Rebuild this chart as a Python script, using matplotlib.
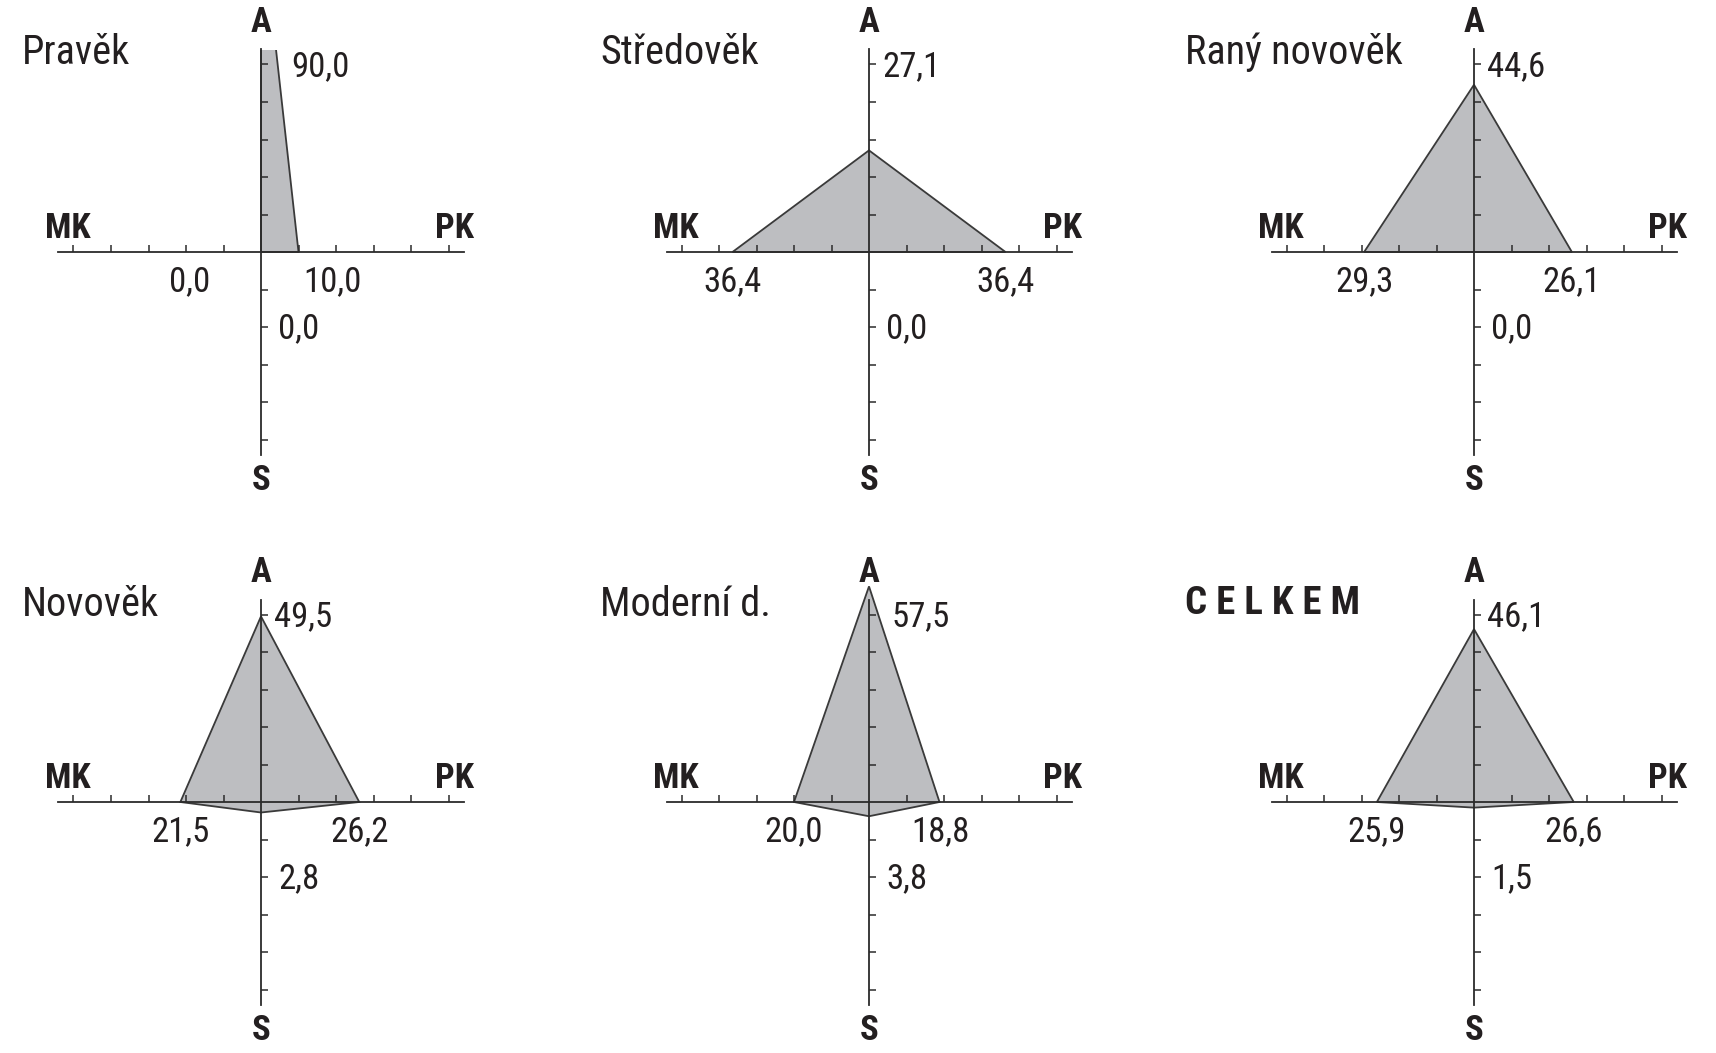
import matplotlib
matplotlib.use('Agg')
import matplotlib.pyplot as plt
from matplotlib import font_manager as fm
from matplotlib.patches import Polygon, Rectangle

# ---------------- data ----------------
panels = ['Pravěk', 'Středověk', 'Raný novověk', 'Novověk', 'Moderní d.', 'CELKEM']
A_vals = [90.0, 27.1, 44.6, 49.5, 57.5, 46.1]
PK_vals = [10.0, 36.4, 26.1, 26.2, 18.8, 26.6]
S_vals = [0.0, 0.0, 0.0, 2.8, 3.8, 1.5]
MK_vals = [0.0, 36.4, 29.3, 21.5, 20.0, 25.9]
axis_names = ['A', 'PK', 'S', 'MK']
tick_vals = [-50, -40, -30, -20, -10, 10, 20, 30, 40, 50]
axis_limit = 54

# ---------------- fonts ----------------
names = {f.name for f in fm.fontManager.ttflist}
cands = ['Roboto Condensed', 'Liberation Sans Narrow', 'Open Sans Condensed',
         'Noto Sans Condensed', 'DejaVu Sans Condensed']
FONT = next((c for c in cands if c in names), None)
STRETCH = 'normal'
SCALE = 1.0
if FONT is None:
    if any(f.name == 'DejaVu Sans' and str(f.stretch) in ('condensed', 'semi-condensed', '87.5', 'semi condensed')
           for f in fm.fontManager.ttflist):
        FONT = 'DejaVu Sans'
        STRETCH = 'condensed'
    else:
        FONT = 'Liberation Sans'
        SCALE = 0.82
plt.rcParams['font.family'] = [FONT, 'DejaVu Sans']

TXT = '#231f20'


def fmt(v):
    return f"{v:.1f}".replace('.', ',')


W, H = 1716, 1053
DPI = 100
fig = plt.figure(figsize=(W / DPI, H / DPI), dpi=DPI)
fig.patch.set_facecolor('white')

PX = 3.75  # pixels per data unit
centers_x = [261, 869, 1474]
centers_y = [252, 802]
title_left = [22, 600, 1185]
title_y = [52, 604]
halfw, halfh = 290, 252

for i, name in enumerate(panels):
    r, c = divmod(i, 3)
    cx, cy = centers_x[c], centers_y[r]
    ax = fig.add_axes([(cx - halfw) / W, 1 - (cy + halfh) / H, 2 * halfw / W, 2 * halfh / H])
    ax.set_xlim(-halfw / PX, halfw / PX)
    ax.set_ylim(-halfh / PX, halfh / PX)
    ax.patch.set_visible(False)
    for s in ('top', 'right'):
        ax.spines[s].set_visible(False)
    for s in ('left', 'bottom'):
        ax.spines[s].set_position(('data', 0))
        ax.spines[s].set_bounds(-axis_limit, axis_limit)
        ax.spines[s].set_color('#2b2b2b')
        ax.spines[s].set_linewidth(1.3)
    ax.set_xticks(tick_vals)
    ax.set_yticks(tick_vals)
    ax.tick_params(direction='in', length=5, width=1.1, color='#2b2b2b',
                   labelbottom=False, labelleft=False)

    a, pk, s_, mk = A_vals[i], PK_vals[i], S_vals[i], MK_vals[i]
    poly = Polygon([(0, a), (pk, 0), (0, -s_), (-mk, 0)], closed=True,
                   facecolor='#bdbec1', edgecolor='#3a3a3a', linewidth=1.3, zorder=1)
    ax.add_patch(poly)
    # values far beyond the axis are cut at the axis end
    top = axis_limit if a > 1.1 * axis_limit else a + 1
    poly.set_clip_path(Rectangle((-axis_limit, -axis_limit), 2 * axis_limit, axis_limit + top,
                                 transform=ax.transData))

    vfs = 25 * SCALE
    bfs = 25 * SCALE
    # axis names
    ax.text(0, 61.3, axis_names[0], ha='center', va='center', fontsize=bfs, fontweight='bold',
            color=TXT, fontstretch=STRETCH)
    ax.text(0, -61, axis_names[2], ha='center', va='center', fontsize=bfs, fontweight='bold',
            color=TXT, fontstretch=STRETCH)
    ax.text(-51.5, 6.2, axis_names[3], ha='center', va='center', fontsize=bfs, fontweight='bold',
            color=TXT, fontstretch=STRETCH)
    ax.text(51.5, 6.2, axis_names[1], ha='center', va='center', fontsize=bfs, fontweight='bold',
            color=TXT, fontstretch=STRETCH)

    # value labels
    ax_x = max(0.0, pk * (1 - 50 / a)) + 3.5
    ax.text(ax_x, 49.5, fmt(a), ha='left', va='center', fontsize=vfs, color=TXT, fontstretch=STRETCH)
    ax.text(4.5, -20.5, fmt(s_), ha='left', va='center', fontsize=vfs, color=TXT, fontstretch=STRETCH)
    ax.text(-max(mk, 19), -8, fmt(mk), ha='center', va='center', fontsize=vfs, color=TXT, fontstretch=STRETCH)
    ax.text(max(pk, 19), -8, fmt(pk), ha='center', va='center', fontsize=vfs, color=TXT, fontstretch=STRETCH)

    # panel title
    if name == 'CELKEM':
        fig.text(title_left[c] / W, 1 - title_y[r] / H, ' '.join(name), ha='left', va='center',
                 fontsize=28 * SCALE, fontweight='bold', color=TXT, fontstretch=STRETCH)
    else:
        fig.text(title_left[c] / W, 1 - title_y[r] / H, name, ha='left', va='center',
                 fontsize=29 * SCALE, color=TXT, fontstretch=STRETCH)

fig.savefig('out.png', dpi=DPI, facecolor='white')
